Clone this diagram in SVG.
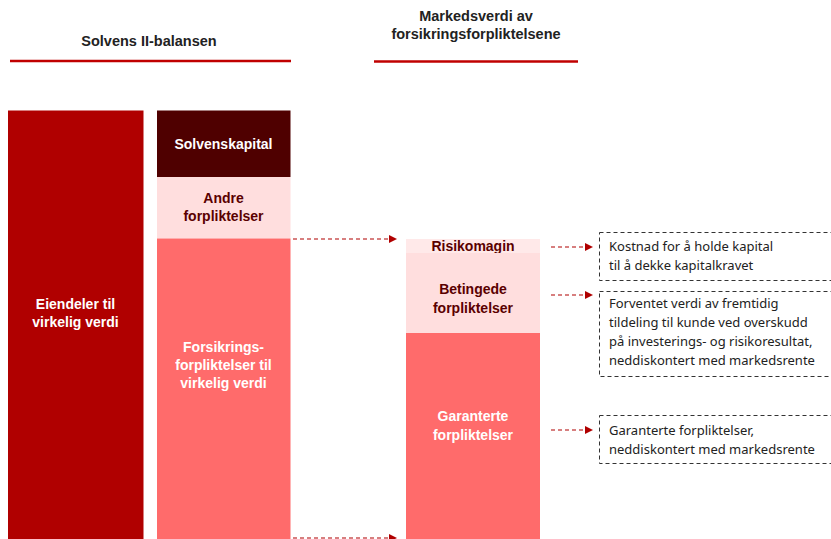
<svg xmlns="http://www.w3.org/2000/svg" width="831" height="539" viewBox="0 0 831 539">
<style>
.h{font-family:"Liberation Sans",Arial,sans-serif;font-weight:bold;font-size:14.5px;fill:#222;text-anchor:middle}
.b{font-family:"Liberation Sans",Arial,sans-serif;font-weight:bold;font-size:14px;text-anchor:middle}
.w{fill:#fff}
.d{fill:#5a0000}
.t{font-family:"Noto Sans","Liberation Sans",Arial,sans-serif;font-size:13px;fill:#222}
.hl{stroke:#c00000;stroke-width:2.5}
.ar{stroke:#b00000;stroke-width:1.2;stroke-dasharray:4,3;fill:none}
.nb{fill:#fff;stroke:#333;stroke-width:1;stroke-dasharray:4,3}
</style>
<defs>
<marker id="ah" viewBox="0 0 10 10" refX="10" refY="5" markerWidth="9" markerHeight="8" markerUnits="userSpaceOnUse" orient="auto">
<path d="M0,0 L10,5 L0,10 z" fill="#b00000"/>
</marker>
</defs>
<rect width="831" height="539" fill="#fff"/>
<g id="header1">
<text class="h" x="149" y="46">Solvens II-balansen</text>
<line class="hl" x1="10" y1="61" x2="291" y2="61"/>
</g>
<g id="header2">
<text class="h" x="476" y="21">Markedsverdi av</text>
<text class="h" x="476" y="39">forsikringsforpliktelsene</text>
<line class="hl" x1="374" y1="61.5" x2="578" y2="61.5"/>
</g>
<g id="eiendeler">
<rect x="8" y="110.5" width="135.5" height="429" fill="#b00000"/>
<text class="b w" x="75.5" y="309">Eiendeler til</text>
<text class="b w" x="75.5" y="327">virkelig verdi</text>
</g>
<g id="solvenskapital">
<rect x="157" y="110.5" width="133.5" height="66.5" fill="#4f0000"/>
<text class="b w" x="223.5" y="149">Solvenskapital</text>
</g>
<g id="andre">
<rect x="157" y="177" width="133.5" height="61.5" fill="#ffdede"/>
<text class="b d" x="223.5" y="203">Andre</text>
<text class="b d" x="223.5" y="221">forpliktelser</text>
</g>
<g id="forsikrings">
<rect x="157" y="238.5" width="133.5" height="301" fill="#ff6b6b"/>
<text class="b w" x="223.5" y="352">Forsikrings-</text>
<text class="b w" x="223.5" y="370">forpliktelser til</text>
<text class="b w" x="223.5" y="388">virkelig verdi</text>
</g>
<g id="risikomagin">
<rect x="406" y="239" width="134" height="14" fill="#ffe9e9"/>
<text class="b d" x="473" y="251">Risikomagin</text>
</g>
<g id="betingede">
<rect x="406" y="253" width="134" height="80" fill="#ffdede"/>
<text class="b d" x="473" y="294">Betingede</text>
<text class="b d" x="473" y="313">forpliktelser</text>
</g>
<g id="garanterte">
<rect x="406" y="333" width="134" height="206" fill="#ff6b6b"/>
<text class="b w" x="473" y="421">Garanterte</text>
<text class="b w" x="473" y="440">forpliktelser</text>
</g>
<g id="note1">
<rect class="nb" x="599.5" y="232.5" width="240" height="48"/>
<text class="t" x="609" y="251">Kostnad for å holde kapital</text>
<text class="t" x="609" y="270">til å dekke kapitalkravet</text>
</g>
<g id="note2">
<rect class="nb" x="599.5" y="291.5" width="240" height="85"/>
<text class="t" x="609" y="308">Forventet verdi av fremtidig</text>
<text class="t" x="609" y="327">tildeling til kunde ved overskudd</text>
<text class="t" x="609" y="346">på investerings- og risikoresultat,</text>
<text class="t" x="609" y="365">neddiskontert med markedsrente</text>
</g>
<g id="note3">
<rect class="nb" x="599.5" y="415.5" width="240" height="48"/>
<text class="t" x="609" y="435">Garanterte forpliktelser,</text>
<text class="t" x="609" y="454">neddiskontert med markedsrente</text>
</g>
<g id="connectors">
<line class="ar" x1="293" y1="239" x2="397" y2="239" marker-end="url(#ah)"/>
<line class="ar" x1="293" y1="538" x2="397" y2="538" marker-end="url(#ah)"/>
<line class="ar" x1="551" y1="247" x2="593" y2="247" marker-end="url(#ah)"/>
<line class="ar" x1="551" y1="295" x2="593" y2="295" marker-end="url(#ah)"/>
<line class="ar" x1="551" y1="430" x2="593" y2="430" marker-end="url(#ah)"/>
</g>
</svg>
